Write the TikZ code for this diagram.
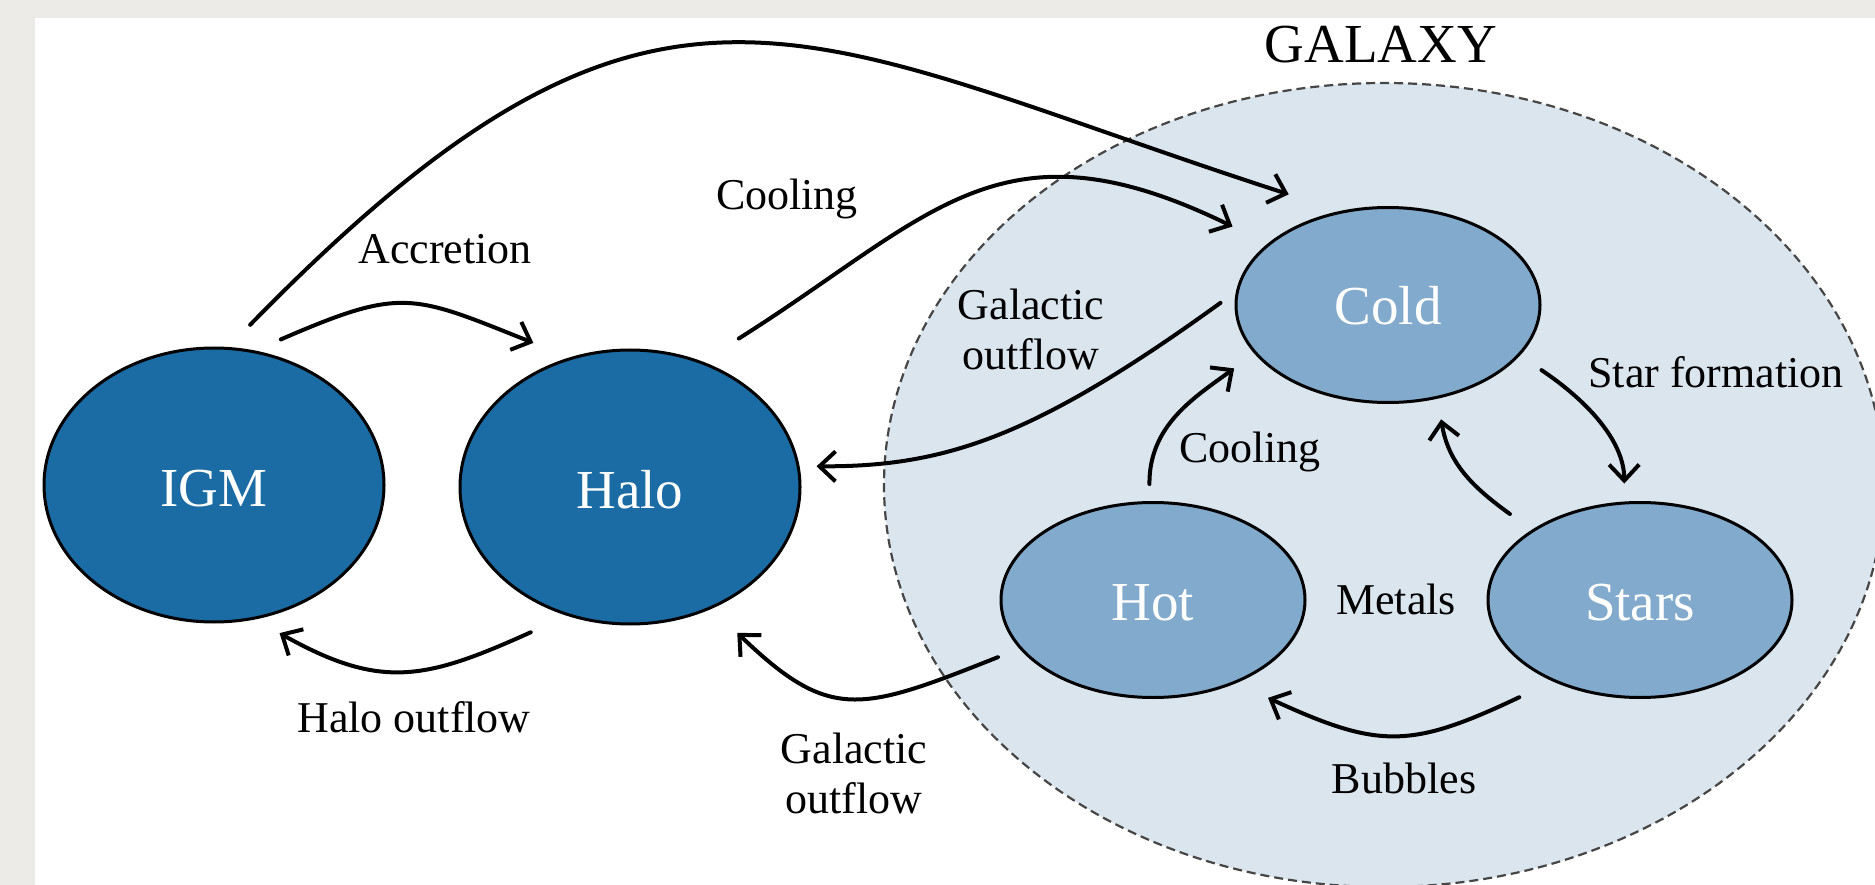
\documentclass[tikz,border=0pt]{standalone}
\usepackage{fontspec}
\setmainfont{Liberation Serif}
\usetikzlibrary{arrows.meta, shapes.geometric}

\definecolor{paper}{RGB}{236,235,232}
\definecolor{outerblue}{RGB}{27,108,165}
\definecolor{innerblue}{RGB}{130,170,205}
\definecolor{galaxyblue}{RGB}{218,229,238}
\definecolor{rimgray}{RGB}{70,70,70}

\begin{document}
\begin{tikzpicture}[x=1pt, y=-1pt,
    bignode/.style={ellipse, draw=black, line width=3pt, fill=outerblue, text=white,
        minimum width=340pt, minimum height=274pt, inner sep=0pt,
        text height=42pt, text depth=0pt, font=\fontsize{55}{60}\selectfont},
    smallnode/.style={ellipse, draw=black, line width=3pt, fill=innerblue, text=white,
        minimum width=304pt, minimum height=195pt, inner sep=0pt,
        text height=40pt, text depth=0pt, font=\fontsize{55}{60}\selectfont},
    flow/.style={line width=4pt, line cap=round, -{Straight Barb[length=16pt,width=30pt]}},
    lbl/.style={anchor=base, align=center, font=\fontsize{44}{50}\selectfont}]

    % frame
    \fill[paper, use as bounding box] (0,0) rectangle (1875,885);
    \fill[white] (35,18) rectangle (1875,885);

    % galaxy
    \draw[fill=galaxyblue, draw=rimgray, line width=2.2pt, dash pattern=on 9pt off 5pt]
        (1384,485) ellipse [x radius=500, y radius=402];
    \node[lbl, font=\fontsize{55}{60}\selectfont] (galaxy) at (1381,63) {GALAXY};

    % reservoirs
    \node[bignode] (igm) at (214,485) {IGM};
    \node[bignode] (halo) at (630,487) {Halo};
    \node[smallnode] (cold) at (1388,305) {Cold};
    \node[smallnode] (hot) at (1153,600) {Hot};
    \node[smallnode] (stars) at (1640,600) {Stars};

    % flows
    \draw[flow, shorten <=31pt, shorten >=54pt] (igm.84) .. controls (660,-95) and (796,35) .. (cold.117);
    \draw[flow, shorten <=28pt, shorten >=39pt] (igm.73) .. controls (402,287) and (411,294) .. (halo.115);
    \draw[flow, shorten <=43pt, shorten >=39pt] (halo.60) .. controls (933,216) and (1000,113) .. (cold.153);
    \draw[flow, shorten <=19pt, shorten >=17pt] (cold.175) .. controls (1035,437) and (945,467) .. (halo.7);
    \draw[flow, shorten <=40pt, shorten >=28pt] (halo.-116) .. controls (425,680) and (381,690) .. (igm.-73);
    \draw[flow, shorten <=23pt, shorten >=35pt] (hot.200) .. controls (860,712) and (830,722) .. (halo.-56);
    \draw[flow, shorten <=17pt, shorten >=25pt] (hot.92) .. controls (1149,425) and (1195,397) .. (cold.-160);
    \draw[flow, shorten <=26pt, shorten >=18pt] (cold.-21) .. controls (1586,400) and (1624,440) .. (stars.99);
    \draw[flow, shorten <=27pt, shorten >=21pt] (stars.147) .. controls (1471,486) and (1448,462) .. (cold.-62);
    \draw[flow, shorten <=37pt, shorten >=35pt] (stars.-137) .. controls (1410,749) and (1379,749) .. (hot.-45);

    % labels
    \node[lbl] (accretion) at (445,264) {Accretion};
    \node[lbl] (coolhalo) at (787,210) {Cooling};
    \node[lbl] (outcold) at (1031,370) {Galactic\\outflow};
    \node[lbl] (outhalo) at (414,732) {Halo outflow};
    \node[lbl] (outhot) at (854,813) {Galactic\\outflow};
    \node[lbl] (coolhot) at (1250,462) {Cooling};
    \node[lbl] (starform) at (1716,388) {Star formation};
    \node[lbl] (metals) at (1396,614) {Metals};
    \node[lbl] (bubbles) at (1404,793) {Bubbles};
\end{tikzpicture}
\end{document}
